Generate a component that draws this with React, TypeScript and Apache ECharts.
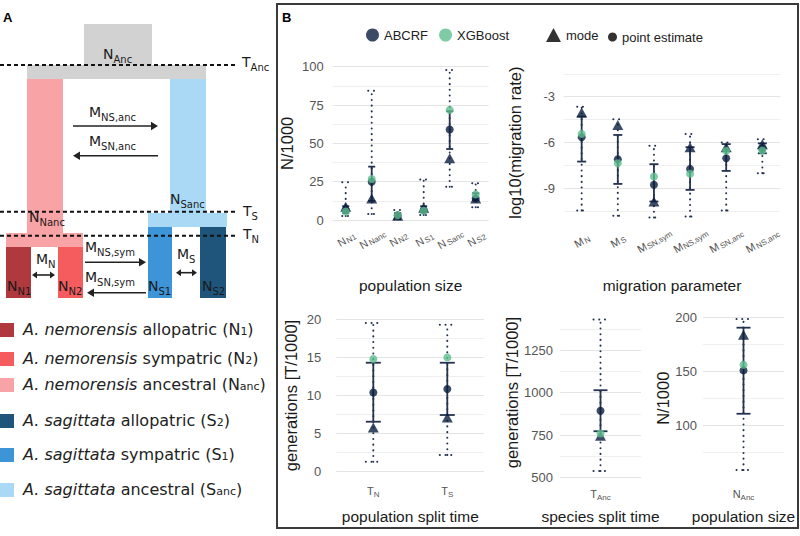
import React, { useEffect, useRef } from 'react';
import * as echarts from 'echarts';

// ---------------- data ----------------
const popCategories = ['N_N1', 'N_Nanc', 'N_N2', 'N_S1', 'N_Sanc', 'N_S2'];
const popAbcrf = [6.5, 25.0, 3.0, 6.5, 59.0, 14.1];
const popXgboost = [5.5, 26.7, 3.2, 6.0, 71.8, 16.7];
const popMode = [8.7, 14.0, 2.8, 8.0, 40.2, 14.0];
const popInnerLow = [4.5, 12.5, 2.0, 5.0, 46.3, 13.0];
const popInnerHigh = [9.0, 34.8, 4.5, 9.0, 71.0, 17.5];
const popOuterLow = [2.6, 3.9, 0.5, 3.3, 21.7, 8.3];
const popOuterHigh = [24.6, 84.3, 6.5, 26.5, 97.8, 23.9];
const popTicks = [0, 25, 50, 75, 100];

const migCategories = ['M_N', 'M_S', 'M_SN,sym', 'M_NS,sym', 'M_SN,anc', 'M_NS,anc'];
const migAbcrf = [-5.65, -7.09, -8.76, -7.72, -7.02, -6.4];
const migXgboost = [-5.43, -7.35, -8.22, -8.04, -6.54, -6.52];
const migMode = [-4.04, -4.85, -9.85, -6.3, -6.3, -6.1];
const migInnerLow = [-7.24, -8.7, -9.85, -9.09, -7.85, -6.7];
const migInnerHigh = [-4.3, -5.5, -7.41, -6.3, -6.1, -6.05];
const migOuterLow = [-10.43, -10.78, -10.9, -10.83, -10.43, -8.0];
const migOuterHigh = [-3.65, -4.48, -6.2, -5.43, -6.0, -5.78];
const migTicks = [-9, -6, -3];

const splitCategories = ['T_N', 'T_S'];
const splitAbcrf = [10.4, 10.85];
const splitXgboost = [14.8, 15.0];
const splitMode = [5.8, 7.1];
const splitInnerLow = [6.56, 7.44];
const splitInnerHigh = [14.3, 14.3];
const splitOuterLow = [1.3, 2.2];
const splitOuterHigh = [19.5, 19.3];
const splitTicks = [0, 5, 10, 15, 20];

const speciesCategories = ['T_Anc'];
const speciesAbcrf = [893];
const speciesXgboost = [760];
const speciesMode = [746];
const speciesInnerLow = [773];
const speciesInnerHigh = [1014];
const speciesOuterLow = [539];
const speciesOuterHigh = [1430];
const speciesTicks = [500, 750, 1000, 1250];

const ancCategories = ['N_Anc'];
const ancAbcrf = [150.9];
const ancXgboost = [156.2];
const ancMode = [184];
const ancInnerLow = [110.5];
const ancInnerHigh = [190.7];
const ancOuterLow = [58];
const ancOuterHigh = [198.8];
const ancTicks = [100, 150, 200];

const legendARows = [
  { color: '#b0393d', species: 'A. nemorensis', role: 'allopatric', code: 'N', codeSub: '1' },
  { color: '#f45c5e', species: 'A. nemorensis', role: 'sympatric', code: 'N', codeSub: '2' },
  { color: '#f8a3a5', species: 'A. nemorensis', role: 'ancestral', code: 'N', codeSub: 'anc' },
  { color: '#1f557a', species: 'A. sagittata', role: 'allopatric', code: 'S', codeSub: '2' },
  { color: '#3d94d6', species: 'A. sagittata', role: 'sympatric', code: 'S', codeSub: '1' },
  { color: '#aad9f6', species: 'A. sagittata', role: 'ancestral', code: 'S', codeSub: 'anc' },
];

// ---------------- styles ----------------
const NAVY = '#0b1e3f';
const GREEN = '#5dbf8f';
const BAR = '#24324f';
const MAJ = '#e4e4e4';
const MIN = '#efefef';
const NONE = 'rgba(0,0,0,0)';
const AX_FONT = 'Liberation Sans, Arial, sans-serif';
const A_FONT = 'DejaVu Sans, sans-serif';
const LABEL_GRAY = '#555';
const NBSP = '\u00a0';
const MAIN_SIZE = 11;
const SUB_SIZE = 8;

const splitLabel = (s: string) => {
  const i = s.indexOf('_');
  return i < 0 ? [s, ''] : [s.slice(0, i), s.slice(i + 1)];
};
const richLabel = (s: string) => {
  const [m, sub] = splitLabel(s);
  return sub ? `{m|${m}}{s|${sub}}` : `{m|${m}}`;
};

const catRich = {
  m: { fontSize: MAIN_SIZE, color: LABEL_GRAY, fontFamily: AX_FONT, lineHeight: 12, verticalAlign: 'top' },
  s: { fontSize: SUB_SIZE, color: LABEL_GRAY, fontFamily: AX_FONT, lineHeight: 8, verticalAlign: 'top', padding: [5, 0, 0, 0] },
};

let measureCtx: CanvasRenderingContext2D | null = null;
function measure(t: string, size: number) {
  if (!measureCtx && typeof document !== 'undefined') {
    measureCtx = document.createElement('canvas').getContext('2d');
  }
  if (!measureCtx) return t.length * size * 0.55;
  measureCtx.font = `${size}px "Liberation Sans", Arial, sans-serif`;
  return measureCtx.measureText(t).width;
}
const padCount = (width: number, size: number) => Math.max(0, Math.round(width / measure(NBSP, size)));

function errorBarRender(capHalf: number, dotted: boolean) {
  return (_params: any, api: any) => {
    const x = api.value(0);
    const lo = api.coord([x, api.value(1)]);
    const hi = api.coord([x, api.value(2)]);
    const style: any = dotted
      ? { stroke: BAR, lineWidth: 2, lineDash: [0.1, 5.6], lineCap: 'round', fill: null }
      : { stroke: BAR, lineWidth: 1.8, fill: null };
    return {
      type: 'group',
      children: [
        { type: 'line', shape: { x1: lo[0], y1: lo[1], x2: hi[0], y2: hi[1] }, style },
        { type: 'line', shape: { x1: lo[0] - capHalf, y1: lo[1], x2: lo[0] + capHalf, y2: lo[1] }, style },
        { type: 'line', shape: { x1: hi[0] - capHalf, y1: hi[1], x2: hi[0] + capHalf, y2: hi[1] }, style },
      ],
    };
  };
}

function panelSeries(g: number, cats: string[], abcrf: number[], xgb: number[], mode: number[],
  inLo: number[], inHi: number[], outLo: number[], outHi: number[], capHalf: number) {
  return [
    {
      type: 'custom', name: 'range', xAxisIndex: g, yAxisIndex: g, z: 1, silent: true,
      renderItem: errorBarRender(capHalf, true), encode: { x: 0, y: [1, 2] },
      data: cats.map((_, i) => [i, outLo[i], outHi[i]]),
    },
    {
      type: 'custom', name: 'interval', xAxisIndex: g, yAxisIndex: g, z: 2, silent: true,
      renderItem: errorBarRender(capHalf, false), encode: { x: 0, y: [1, 2] },
      data: cats.map((_, i) => [i, inLo[i], inHi[i]]),
    },
    {
      type: 'scatter', name: 'mode', xAxisIndex: g, yAxisIndex: g, z: 3,
      symbol: 'triangle', symbolSize: [11, 10], itemStyle: { color: NAVY }, data: mode,
    },
    {
      type: 'scatter', name: 'ABCRF', xAxisIndex: g, yAxisIndex: g, z: 4,
      symbol: 'circle', symbolSize: 8, itemStyle: { color: NAVY }, data: abcrf,
    },
    {
      type: 'scatter', name: 'XGBoost', xAxisIndex: g, yAxisIndex: g, z: 5,
      symbol: 'circle', symbolSize: 8, itemStyle: { color: GREEN }, data: xgb,
    },
  ];
}

const baseCat = (g: number, cats: string[]) => ({
  type: 'category', gridIndex: g, position: 'bottom', data: cats, boundaryGap: true,
  axisLine: { show: false }, axisTick: { show: false }, splitLine: { show: false },
});

// upright labels (rich text subscript)
function xCat(g: number, cats: string[], margin: number, name: string, nameGap: number) {
  return {
    ...baseCat(g, cats),
    axisLabel: {
      interval: 0, margin, align: 'center', verticalAlign: 'middle',
      formatter: (v: string) => richLabel(v), rich: catRich,
    },
    name, nameLocation: 'middle', nameGap,
    nameTextStyle: { fontSize: 15.5, color: '#1a1a1a', fontFamily: AX_FONT, verticalAlign: 'top' },
  };
}

// slanted labels: main letter on this axis, padded so that the subscript axis can sit next to it
function xCatSlantMain(g: number, cats: string[], margin: number, name: string, nameGap: number) {
  return {
    ...baseCat(g, cats),
    axisLabel: {
      interval: 0, rotate: 30, margin, align: 'center', verticalAlign: 'middle',
      fontSize: MAIN_SIZE, color: LABEL_GRAY, fontFamily: AX_FONT,
      formatter: (v: string) => {
        const [m, sub] = splitLabel(v);
        return m + NBSP.repeat(padCount(measure(sub, SUB_SIZE), MAIN_SIZE));
      },
    },
    name, nameLocation: 'middle', nameGap,
    nameTextStyle: { fontSize: 15.5, color: '#1a1a1a', fontFamily: AX_FONT, verticalAlign: 'top' },
  };
}
function xCatSlantSub(g: number, cats: string[], margin: number) {
  return {
    ...baseCat(g, cats),
    axisLabel: {
      interval: 0, rotate: 30, margin, align: 'center', verticalAlign: 'top',
      fontSize: SUB_SIZE, color: LABEL_GRAY, fontFamily: AX_FONT,
      formatter: (v: string) => {
        const [m, sub] = splitLabel(v);
        return NBSP.repeat(padCount(measure(m, MAIN_SIZE), SUB_SIZE)) + sub;
      },
    },
  };
}

function yVal(g: number, min: number, max: number, interval: number, ticks: number[], colors: string[],
  margin: number, name: string, nameGap: number) {
  return {
    type: 'value', gridIndex: g, min, max, interval,
    axisLine: { show: false }, axisTick: { show: false },
    splitLine: { show: true, lineStyle: { color: colors, width: 1.1 } },
    axisLabel: {
      margin, fontSize: 13, color: LABEL_GRAY, fontFamily: AX_FONT,
      formatter: (v: number) => (ticks.some((t) => Math.abs(t - v) < 1e-6) ? String(v) : ''),
    },
    name, nameLocation: 'middle', nameGap,
    nameTextStyle: { fontSize: 16.5, color: '#1a1a1a', fontFamily: AX_FONT },
  };
}

// ---------------- panel A graphics ----------------
const richA = {
  m: { fontSize: 14, fontFamily: A_FONT, fill: '#1a1a1a', color: '#1a1a1a', lineHeight: 16, verticalAlign: 'top' },
  s: { fontSize: 10, fontFamily: A_FONT, fill: '#1a1a1a', color: '#1a1a1a', lineHeight: 10, verticalAlign: 'top', padding: [7, 0, 0, 0] },
};

const rect = (x: number, y: number, w: number, h: number, fill: string) => ({
  type: 'rect', silent: true, shape: { x, y, width: w, height: h }, style: { fill },
});
const lbl = (main: string, sub: string, x: number, capTop: number) => ({
  type: 'text', silent: true, x, y: capTop - 3,
  style: { text: `{m|${main}}{s|${sub}}`, rich: richA, align: 'left', verticalAlign: 'top', textAlign: 'left', textVerticalAlign: 'top' },
});
const dashed = (y: number) => ({
  type: 'line', silent: true, shape: { x1: 0, y1: y, x2: 238, y2: y },
  style: { stroke: '#111', lineWidth: 2, lineDash: [4, 3] },
});
function arrow(x1: number, y: number, x2: number, both: boolean, len = 7, hw = 4.2) {
  const dir = Math.sign(x2 - x1);
  const els: any[] = [];
  const sx = both ? x1 + dir * len : x1;
  const ex = x2 - dir * len;
  els.push({ type: 'line', silent: true, shape: { x1: sx, y1: y, x2: ex, y2: y }, style: { stroke: '#222', lineWidth: 1.6 } });
  els.push({ type: 'polygon', silent: true, shape: { points: [[x2, y], [x2 - dir * len, y - hw], [x2 - dir * len, y + hw]] }, style: { fill: '#222' } });
  if (both) {
    els.push({ type: 'polygon', silent: true, shape: { points: [[x1, y], [x1 + dir * len, y - hw], [x1 + dir * len, y + hw]] }, style: { fill: '#222' } });
  }
  return els;
}

function panelA() {
  const els: any[] = [
    { type: 'text', silent: true, x: 3, y: 11, style: { text: 'A', fontSize: 13, fontWeight: 'bold', fontFamily: AX_FONT, fill: '#000' } },
    rect(84, 24, 68, 41, '#d2d2d2'),
    rect(27, 65, 179, 14, '#d2d2d2'),
    rect(27, 79, 36, 156, '#f8a3a5'),
    rect(6, 233, 77, 14, '#f8a3a5'),
    rect(170, 79, 36, 134, '#aad9f6'),
    rect(148, 213, 79, 14, '#aad9f6'),
    rect(6, 247, 25, 51, '#b0393d'),
    rect(58, 247, 25, 51, '#f45c5e'),
    rect(148, 227, 24, 71, '#3d94d6'),
    rect(200, 227, 26, 71, '#1f557a'),
    dashed(65), dashed(211.7), dashed(235.7),
    lbl('T', 'Anc', 242, 58), lbl('T', 'S', 243, 207), lbl('T', 'N', 243, 230),
    lbl('N', 'Anc', 103, 50), lbl('N', 'Nanc', 29, 213), lbl('N', 'Sanc', 170, 195),
    lbl('M', 'NS,anc', 89, 108), lbl('M', 'SN,anc', 89, 137),
    lbl('M', 'N', 36, 255), lbl('M', 'S', 177, 250),
    lbl('M', 'NS,sym', 85, 243), lbl('M', 'SN,sym', 85, 273),
    lbl('N', 'N1', 7, 282), lbl('N', 'N2', 58, 282), lbl('N', 'S1', 148, 282), lbl('N', 'S2', 202, 282),
    ...arrow(73, 126, 158, false),
    ...arrow(158, 155.7, 73, false),
    ...arrow(85, 262.3, 146, false),
    ...arrow(146, 292.7, 87, false),
    ...arrow(32, 275, 55, true, 5, 3.5),
    ...arrow(176, 272.7, 197, true, 5, 3.5),
  ];
  const rowCenters = [330, 359, 385, 421, 455, 490];
  const richL = {
    i: { fontSize: 16, fontStyle: 'italic', fontFamily: A_FONT, fill: '#222', color: '#222', lineHeight: 18, verticalAlign: 'top' },
    r: { fontSize: 16, fontFamily: A_FONT, fill: '#222', color: '#222', lineHeight: 18, verticalAlign: 'top' },
    s: { fontSize: 11, fontFamily: A_FONT, fill: '#222', color: '#222', lineHeight: 11, verticalAlign: 'top', padding: [5, 0, 0, 0] },
  };
  legendARows.forEach((row, k) => {
    const c = rowCenters[k];
    els.push(rect(0, c - 7, 14, 14, row.color));
    els.push({
      type: 'text', silent: true, x: 23, y: c - 9,
      style: {
        text: `{i|${row.species}}{r| ${row.role} (${row.code}}{s|${row.codeSub}}{r|)}`,
        rich: richL, align: 'left', verticalAlign: 'top', textAlign: 'left', textVerticalAlign: 'top',
      },
    });
  });
  els.push({ type: 'rect', silent: true, shape: { x: 277, y: 4, width: 521, height: 524 }, style: { fill: 'none', stroke: '#3a3a3a', lineWidth: 2 } });
  els.push({ type: 'text', silent: true, x: 282, y: 11, style: { text: 'B', fontSize: 13, fontWeight: 'bold', fontFamily: AX_FONT, fill: '#000' } });
  return els;
}

export default function App() {
  const ref = useRef<HTMLDivElement>(null);
  useEffect(() => {
    if (!ref.current) return;
    const chart = echarts.init(ref.current, undefined, { renderer: 'svg' });
    const legendText = { fontSize: 13, color: '#222', fontFamily: AX_FONT };
    const option: any = {
      animation: false,
      backgroundColor: '#fff',
      textStyle: { fontFamily: AX_FONT },
      grid: [
        { left: 332.7, top: 66.7, width: 156, height: 153.3 },
        { left: 563.6, top: 73.75, width: 216.8, height: 137.7 },
        { left: 336.3, top: 319.3, width: 148, height: 152.4 },
        { left: 560, top: 307.5, width: 81, height: 170.2 },
        { left: 703, top: 317.7, width: 81, height: 161 },
      ],
      legend: [
        {
          left: 361, top: 23.5, itemWidth: 13, itemHeight: 13, itemGap: 11, selectedMode: false,
          textStyle: legendText, data: [{ name: 'ABCRF', icon: 'circle' }, { name: 'XGBoost', icon: 'circle' }],
        },
        {
          left: 541, top: 23, itemWidth: 15, itemHeight: 14, selectedMode: false, textStyle: legendText,
          data: [{ name: 'mode', icon: 'triangle', itemStyle: { color: '#000' } }],
        },
        {
          left: 603, top: 25.5, itemWidth: 9, itemHeight: 9, selectedMode: false, textStyle: legendText,
          data: [{ name: 'point estimate', icon: 'circle', itemStyle: { color: '#000' } }],
        },
      ],
      xAxis: [
        xCatSlantMain(0, popCategories, 19.5, 'population size', 57),
        xCatSlantMain(1, migCategories, 29.5, 'migration parameter', 66),
        xCat(2, splitCategories, 20, 'population split time', 37),
        xCat(3, speciesCategories, 17, 'species split time', 31),
        xCat(4, ancCategories, 16, 'population size', 30),
        xCatSlantSub(0, popCategories, 17.5),
        xCatSlantSub(1, migCategories, 27.5),
      ],
      yAxis: [
        yVal(0, 0, 100, 12.5, popTicks, [MAJ, MIN], 9, 'N/1000', 37),
        yVal(1, -10.5, -1.5, 1.5, migTicks, [MIN, MAJ], 8.5, 'log10(migration rate)', 40),
        yVal(2, 0, 20, 2.5, splitTicks, [MAJ, MIN], 15, 'generations [T/1000]', 37),
        yVal(3, 500, 1500, 125, speciesTicks, [MAJ, MIN, MAJ, MIN, MAJ, MIN, MAJ, MIN, NONE], 7, 'generations [T/1000]', 37),
        yVal(4, 50, 200, 25, ancTicks, [NONE, MIN, MAJ, MIN, MAJ, MIN, MAJ], 6, 'N/1000', 30),
      ],
      series: [
        ...panelSeries(0, popCategories, popAbcrf, popXgboost, popMode, popInnerLow, popInnerHigh, popOuterLow, popOuterHigh, 3.5),
        ...panelSeries(1, migCategories, migAbcrf, migXgboost, migMode, migInnerLow, migInnerHigh, migOuterLow, migOuterHigh, 4.5),
        ...panelSeries(2, splitCategories, splitAbcrf, splitXgboost, splitMode, splitInnerLow, splitInnerHigh, splitOuterLow, splitOuterHigh, 7.5),
        ...panelSeries(3, speciesCategories, speciesAbcrf, speciesXgboost, speciesMode, speciesInnerLow, speciesInnerHigh, speciesOuterLow, speciesOuterHigh, 7),
        ...panelSeries(4, ancCategories, ancAbcrf, ancXgboost, ancMode, ancInnerLow, ancInnerHigh, ancOuterLow, ancOuterHigh, 7),
        { type: 'scatter', name: 'point estimate', xAxisIndex: 0, yAxisIndex: 0, data: [], itemStyle: { color: '#000' } },
      ],
      graphic: panelA(),
    };
    chart.setOption(option);
    return () => chart.dispose();
  }, []);
  return (
    <div
      ref={ref}
      style={{ position: 'fixed', left: 0, top: 0, width: 800, height: 536, background: '#fff' }}
    />
  );
}
